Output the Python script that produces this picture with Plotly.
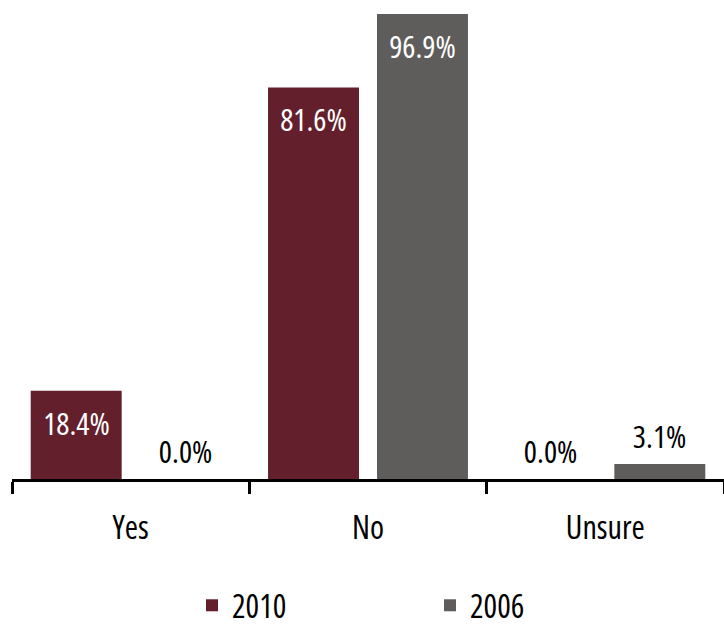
import plotly.graph_objects as go

# Survey responses by year (percent of respondents)
categories = ["Yes", "No", "Unsure"]
series_names = ["2010", "2006"]
values_2010 = [18.4, 81.6, 0.0]
values_2006 = [0.0, 96.9, 3.1]
series_values = [values_2010, values_2006]
series_colors = ["#641f2c", "#5e5d5c"]

FONT = "Open Sans, Roboto, sans-serif"

BARGAP = 0.082
BARGROUPGAP = 0.165
slot = (1 - BARGAP) / len(series_names)  # width of each bar slot in category units

fig = go.Figure()
for name, vals, color in zip(series_names, series_values, series_colors):
    fig.add_trace(go.Bar(
        x=categories, y=vals, name=name,
        marker=dict(color=color, line=dict(width=0)),
        hoverinfo="skip",
    ))

# Value labels: white inside tall bars, black above short/empty ones
annotations = []
for i, vals in enumerate(series_values):
    offset = (i - (len(series_names) - 1) / 2) * slot
    for j, v in enumerate(vals):
        inside = v >= 10
        annotations.append(dict(
            x=j + offset, y=v, xref="x", yref="y",
            text=f"{v:.1f}%", showarrow=False,
            yanchor="middle", xanchor="center",
            yshift=-32 if inside else 28,
            font=dict(family=FONT, size=31, color="white" if inside else "black"),
        ))

fig.update_layout(
    width=724, height=628,
    margin=dict(l=12, r=0, t=14, b=149, autoexpand=False),
    paper_bgcolor="white", plot_bgcolor="white",
    barmode="group", bargap=BARGAP, bargroupgap=BARGROUPGAP,
    font=dict(family=FONT, color="black"),
    showlegend=True,
    legend=dict(
        orientation="h", x=(192 - 12) / 712, xanchor="left",
        y=-0.272, yanchor="middle",
        font=dict(family=FONT, size=32, color="black"),
        entrywidth=193, entrywidthmode="pixels",
        traceorder="normal",
    ),
    annotations=annotations,
)
fig.update_xaxes(
    type="category", showline=True, linecolor="black", linewidth=2.5,
    ticks="outside", tickson="boundaries", ticklen=12, tickwidth=2.5, tickcolor="black",
    tickfont=dict(family=FONT, size=32, color="black"),
    ticklabelstandoff=19,
    showgrid=False, zeroline=False, fixedrange=True,
)
fig.update_yaxes(
    visible=False, range=[0, max(max(s) for s in series_values)],
    showgrid=False, zeroline=False, fixedrange=True,
)

# Use the condensed width of the typeface for all chart text, then redraw so
# text measurements pick it up.
condensed_js = """
var s = document.createElement('style');
s.textContent = 'text, tspan { font-stretch: condensed !important; }';
document.head.appendChild(s);
var gd = document.getElementById('{plot_id}');
Plotly.newPlot(gd, gd.data, gd.layout, gd._context);
"""

fig.write_html("out.html", post_script=condensed_js)
